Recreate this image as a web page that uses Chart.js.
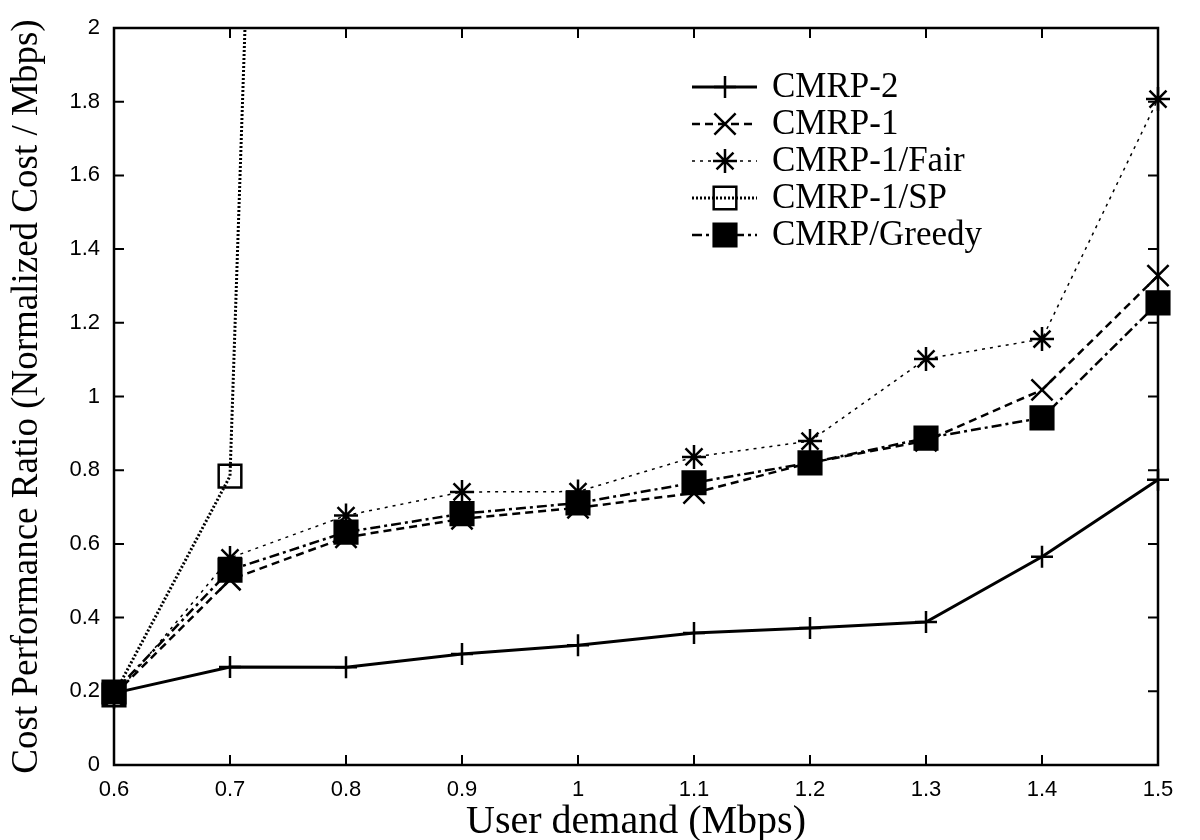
<!DOCTYPE html>
<html>
<head>
<meta charset="utf-8">
<script src="https://cdn.jsdelivr.net/npm/chart.js@4.4.0/dist/chart.umd.min.js"></script>
<style>
  html, body { margin: 0; padding: 0; background: #fff; }
  #wrap { width: 1200px; height: 840px; position: relative; }
</style>
</head>
<body>
<div id="wrap"><canvas id="costChart"></canvas></div>
<script>
// x categories (user demand, Mbps)
const demand = ['0.6', '0.7', '0.8', '0.9', '1', '1.1', '1.2', '1.3', '1.4', '1.5'];
const yTickValues = [0, 0.2, 0.4, 0.6, 0.8, 1, 1.2, 1.4, 1.6, 1.8, 2];

// series
const cmrp2 = [0.195, 0.266, 0.265, 0.301, 0.325, 0.358, 0.372, 0.388, 0.565, 0.774];
const cmrp1 = [0.19, 0.503, 0.618, 0.668, 0.698, 0.738, 0.82, 0.88, 1.018, 1.328];
const cmrp1Fair = [0.185, 0.562, 0.677, 0.741, 0.742, 0.836, 0.879, 1.102, 1.156, 1.807];
const cmrp1SP = [0.19, 0.784, 10.2, null, null, null, null, null, null, null];
const cmrpGreedy = [0.198, 0.529, 0.632, 0.682, 0.711, 0.766, 0.82, 0.887, 0.942, 1.254];

const SERIF = "'Liberation Serif', 'Times New Roman', serif";
const SANS = "'Liberation Sans', Arial, sans-serif";

// gnuplot-like frame with inward ticks on all four sides
const framePlugin = {
    id: 'frame',
    afterDatasetsDraw(chart) {
        const ctx = chart.ctx;
        const a = chart.chartArea;
        const tl = 10;
        ctx.save();
        ctx.strokeStyle = '#000';
        ctx.lineWidth = 2;
        ctx.beginPath();
        chart.scales.x.ticks.forEach(function (t, i) {
            const px = chart.scales.x.getPixelForTick(i);
            ctx.moveTo(px, a.bottom); ctx.lineTo(px, a.bottom - tl);
            ctx.moveTo(px, a.top); ctx.lineTo(px, a.top + tl);
        });
        chart.scales.y.ticks.forEach(function (t) {
            const py = chart.scales.y.getPixelForValue(t.value);
            ctx.moveTo(a.left, py); ctx.lineTo(a.left + tl, py);
            ctx.moveTo(a.right, py); ctx.lineTo(a.right - tl, py);
        });
        ctx.stroke();
        ctx.lineWidth = 2.5;
        ctx.strokeRect(a.left, a.top, a.right - a.left, a.bottom - a.top);
        ctx.restore();
    }
};

// legend drawn inside the plot, line sample + marker + label
const keyPlugin = {
    id: 'key',
    afterDraw(chart) {
        const ctx = chart.ctx;
        const x0 = 692, x1 = 757, xm = 725, xt = 772;
        ctx.save();
        chart.data.datasets.forEach(function (ds, i) {
            const y = 87 + i * 37;
            ctx.strokeStyle = '#000';
            ctx.lineWidth = ds.borderWidth;
            ctx.setLineDash(ds.borderDash || []);
            ctx.beginPath();
            ctx.moveTo(x0, y); ctx.lineTo(x1, y);
            ctx.stroke();
            ctx.setLineDash([]);
            ctx.lineWidth = ds.pointBorderWidth;
            ctx.fillStyle = ds.pointBackgroundColor;
            Chart.helpers.drawPoint(ctx, { pointStyle: ds.pointStyle, radius: ds.pointRadius, borderWidth: ds.pointBorderWidth, rotation: 0 }, xm, y);
            ctx.fillStyle = '#000';
            ctx.font = '35px ' + SERIF;
            ctx.textBaseline = 'middle';
            ctx.textAlign = 'left';
            ctx.fillText(ds.label, xt, y + 1);
        });
        ctx.restore();
    }
};

function series(label, data, dash, width, style, radius, fill, order) {
    return {
        label: label,
        data: data,
        borderColor: '#000',
        borderWidth: width,
        borderDash: dash,
        pointStyle: style,
        pointRadius: radius,
        pointHoverRadius: radius,
        pointBorderColor: '#000',
        pointBackgroundColor: fill,
        pointBorderWidth: 2.5,
        tension: 0,
        fill: false,
        spanGaps: false,
        order: order
    };
}

new Chart(document.getElementById('costChart'), {
    type: 'line',
    data: {
        labels: demand,
        datasets: [
            series('CMRP-2', cmrp2, [], 3, 'cross', 11, '#000', 5),
            series('CMRP-1', cmrp1, [8, 5], 2.5, 'crossRot', 15, '#000', 4),
            series('CMRP-1/Fair', cmrp1Fair, [3, 5], 1.5, 'star', 12, '#000', 3),
            series('CMRP-1/SP', cmrp1SP, [2, 2], 3, 'rect', 16, 'rgba(0,0,0,0)', 2),
            series('CMRP/Greedy', cmrpGreedy, [10, 4, 3, 4], 2.5, 'rect', 16, '#000', 1)
        ]
    },
    options: {
        responsive: true,
        maintainAspectRatio: false,
        animation: false,
        layout: { padding: { top: 28, right: 42, left: 0, bottom: 0 } },
        plugins: {
            legend: { display: false },
            tooltip: { enabled: false }
        },
        scales: {
            x: {
                offset: false,
                grid: { display: false, drawTicks: false },
                border: { display: false },
                ticks: { color: '#000', font: { family: SANS, size: 22 }, padding: 12, maxRotation: 0, autoSkip: false },
                title: { display: true, text: 'User demand (Mbps)', color: '#000', font: { family: SERIF, size: 40, lineHeight: 0.9 }, padding: 0 },
                afterFit: function (s) { s.height = 75; }
            },
            y: {
                min: 0,
                max: 2,
                grid: { display: false, drawTicks: false },
                border: { display: false },
                afterBuildTicks: function (s) { s.ticks = yTickValues.map(function (v) { return { value: v }; }); },
                ticks: {
                    color: '#000',
                    font: { family: SANS, size: 22 },
                    padding: 14,
                    callback: function (v) { return String(v); }
                },
                title: { display: true, text: 'Cost Performance Ratio (Normalized Cost / Mbps)', color: '#000', font: { family: SERIF, size: 37, lineHeight: 1.1 }, padding: { top: 7, bottom: 0 } },
                afterFit: function (s) { s.width = 114; }
            }
        }
    },
    plugins: [framePlugin, keyPlugin]
});
</script>
</body>
</html>
